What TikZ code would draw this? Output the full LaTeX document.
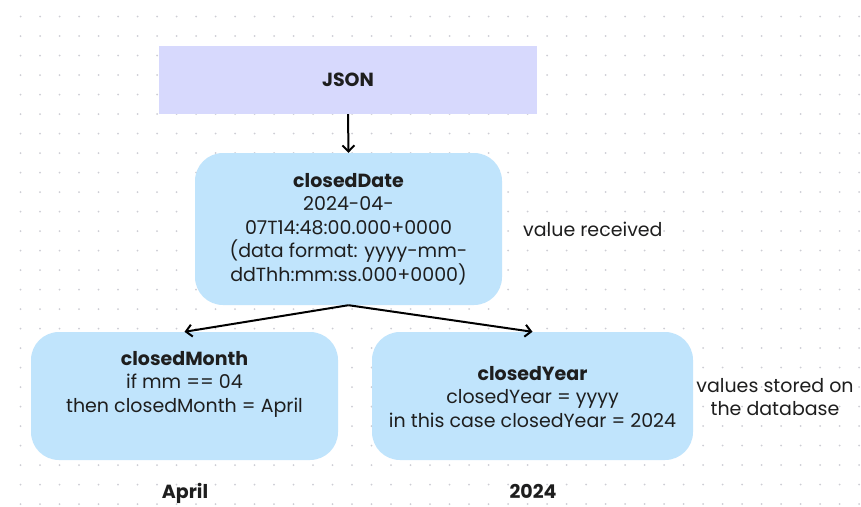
\documentclass[tikz,border=0pt]{standalone}
\usepackage{fontspec}
\setmainfont{Poppins}
\usetikzlibrary{arrows.meta}
\definecolor{dotc}{RGB}{205,205,212}
\definecolor{lav}{RGB}{215,217,253}
\definecolor{lblue}{RGB}{192,228,252}
\definecolor{txt}{RGB}{30,30,30}
\tikzset{
  basefont/.style={font=\fontsize{19}{23.5}\selectfont, text=txt},
  jsonbox/.style={rectangle, fill=lav, minimum width=378pt, minimum height=68pt, inner sep=0pt, basefont},
  bluebox/.style={rectangle, rounded corners=28pt, fill=lblue, inner sep=0pt},
  txtnode/.style={align=center, inner sep=0pt, basefont},
  conn/.style={line width=2pt, draw=black, -{Straight Barb[length=6pt,width=12pt,line width=2pt]}},
}
\begin{document}
\begin{tikzpicture}[x=1pt,y=-1pt]
\useasboundingbox (0,0) rectangle (861,506);
\fill[white] (0,0) rectangle (861,506);
\foreach \i in {0,...,43}{
  \foreach \j in {0,...,25}{
    \fill[dotc] (20.5+19.5*\i,16.5+19.5*\j) circle (1pt);
  }
}
\node[jsonbox] (json) at (348,80) {\textbf{JSON}};
\node[bluebox, minimum width=307pt, minimum height=152pt] (cd) at (348.5,229) {};
\node[txtnode] (cdt) at (348.5,229) {\textbf{closedDate}\\2024-04-\\07T14:48:00.000+0000\\(data format: yyyy-mm-\\ddThh:mm:ss.000+0000)};
\node[bluebox, minimum width=307pt, minimum height=128pt] (cm) at (184.5,396) {};
\node[txtnode] (cmt) at (184.5,384) {\textbf{closedMonth}\\if mm == 04\\then closedMonth = April};
\node[bluebox, minimum width=321pt, minimum height=128pt] (cy) at (532.5,396) {};
\node[txtnode] (cyt) at (532.5,397) {\textbf{closedYear}\\closedYear = yyyy\\in this case closedYear = 2024};
\node[txtnode, anchor=west] (vr) at (523,229) {value received};
\node[txtnode] (vs) at (775,397) {values stored on\\the database};
\node[txtnode, anchor=base] (apr) at (185,498) {\textbf{April}};
\node[txtnode, anchor=base] (yr) at (533,498) {\textbf{2024}};
\draw[conn] (json.south) -- (cd.north);
\draw[conn] (cd.south) -- (cm.north);
\draw[conn] (cd.south) -- (cy.north);
\end{tikzpicture}
\end{document}
